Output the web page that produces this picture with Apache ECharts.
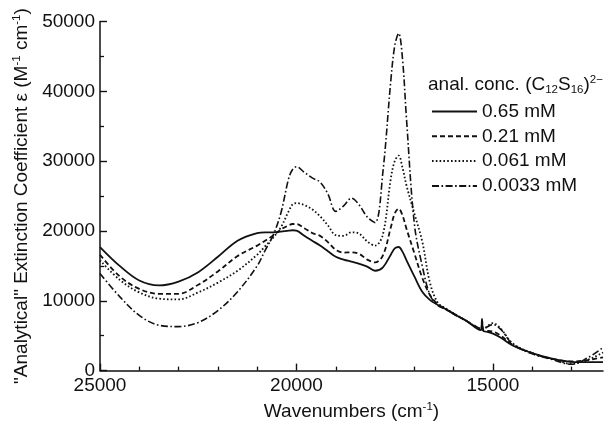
<!DOCTYPE html>
<html>
<head>
<meta charset="utf-8">
<script src="https://cdn.jsdelivr.net/npm/echarts@6/dist/echarts.min.js"></script>
<style>
html,body{margin:0;padding:0;background:#fff;}
#c{width:605px;height:426px;}
</style>
</head>
<body>
<div id="c"></div>
<script>
// wavenumbers (cm^-1)
const wavenumbers = [25000,24500,24000,23500,23000,22500,22000,21500,21000,20800,20600,20400,20200,20100,20000,19800,19600,19400,19200,19000,18800,18600,18400,18200,18000,17800,17600,17500,17400,17300,17200,17000,16800,16600,16400,16200,16000,15700,15400,15300,15280,15250,15200,15000,14800,14500,14000,13500,13000,12600,12200];
const seriesNames = ['0.65 mM','0.21 mM','0.061 mM','0.0033 mM'];
const conc065 = [17700,15000,12900,12200,12750,14100,16300,18600,19700,19800,19800,19900,20050,20100,20050,19300,18600,17900,17100,16300,15900,15600,15300,14900,14300,14800,16600,17500,17700,17000,15800,13500,11300,10100,9400,8800,8100,7200,6000,5800,7400,5700,5600,5300,4700,3600,2500,1700,1250,1200,1200];
const conc021 = [16600,13500,11700,11000,11000,12300,14200,16400,17900,18600,19300,20200,20800,21000,21000,20400,19700,19300,18400,17300,16900,16950,16700,15900,15500,16500,20500,22500,23200,22200,20300,16800,13300,10800,9500,8800,8100,7200,6100,5900,7200,5800,5700,5600,5000,3700,2500,1700,1300,1500,1900];
const conc0061 = [15800,13000,11200,10300,10200,11200,12600,14300,16600,17800,19000,20500,22800,23800,24000,23700,23100,22100,20800,19400,19300,19800,19600,18500,17900,19500,27500,30000,30800,29000,26500,22500,18500,12500,9700,8900,8200,7200,6200,6000,6100,6000,6100,6800,6000,3900,2500,1700,1000,1500,2600];
const conc00033 = [13900,10600,7900,6500,6300,6900,8600,11300,15000,17200,19300,22500,27500,28800,29200,28400,27600,27000,25300,22800,23600,24700,23700,22000,21200,28500,41500,46500,48300,44500,36000,21000,15000,10800,9300,8800,8200,7200,6200,6000,6100,6000,6100,6600,5900,3800,2400,1600,900,1800,3300];
const yTicks = [0,10000,20000,30000,40000,50000];
const xMajorTicks = [25000,20000,15000];
const xMinorTicks = [24000,23000,22000,21000,19000,18000,17000,16000,14000,13000];

const ink = '#111';
const font = 'Liberation Sans, Arial, sans-serif';
const fs = 19;
const dashes = ['solid',[5,3],[1.6,2.2],[7,2.5,1.6,2.5]];
const widths = [1.8,1.8,1.8,1.6];
const allData = [conc065,conc021,conc0061,conc00033];

const chart = echarts.init(document.getElementById('c'));
const sup = {fontSize:11.5, fontFamily:font, fontWeight:'normal', color:ink, verticalAlign:'top', lineHeight:22};
const sub = {fontSize:11.5, fontFamily:font, fontWeight:'normal', color:ink, verticalAlign:'bottom', lineHeight:22};
const base = {fontSize:fs, fontFamily:font, fontWeight:'normal', color:ink, lineHeight:22};
chart.setOption({
  animation:false,
  backgroundColor:'#fff',
  title:{
    text:'{a|anal. conc. (C}{s|12}{a|S}{s|16}{a|)}{p|2−}',
    left:428, top:74, padding:0,
    textStyle:{fontWeight:'normal', rich:{a:base, s:sub, p:sup}}
  },
  legend:{
    orient:'vertical', left:431, top:102, padding:0,
    itemWidth:45, itemHeight:19, itemGap:5.8,
    itemStyle:{opacity:0},
    textStyle:{fontSize:fs, fontFamily:font, color:ink},
    data:seriesNames
  },
  grid:{left:100, right:2, top:21.5, bottom:51},
  xAxis:[{
    type:'value', min:12200, max:25000, inverse:true,
    axisLine:{onZero:false, lineStyle:{color:ink, width:1.5}},
    axisTick:{inside:true, length:7, customValues:xMajorTicks, lineStyle:{color:ink, width:1.4}},
    axisLabel:{customValues:xMajorTicks, formatter:v=>String(v), fontSize:fs, fontFamily:font, color:ink, margin:6},
    splitLine:{show:false},
    name:'Wavenumbers (cm{p|-1})', nameLocation:'middle', nameGap:25,
    nameTextStyle:{fontSize:fs, fontFamily:font, color:ink, rich:{p:sup}}
  },{
    type:'value', min:12200, max:25000, inverse:true, position:'bottom', offset:0,
    axisLine:{show:false},
    axisTick:{show:true, inside:true, length:4, customValues:xMinorTicks, lineStyle:{color:ink, width:1.3}},
    axisLabel:{show:false}, splitLine:{show:false}
  }],
  yAxis:{
    type:'value', min:0, max:50000, interval:10000,
    axisLine:{show:true, lineStyle:{color:ink, width:1.5}},
    axisTick:{show:true, inside:true, length:7, lineStyle:{color:ink, width:1.4}},
    minorTick:{show:true, splitNumber:2, length:4, lineStyle:{color:ink, width:1.3}},
    axisLabel:{formatter:v=>String(v), fontSize:fs, fontFamily:font, color:ink, margin:5},
    splitLine:{show:false},
    name:'"Analytical" Extinction Coefficient ε (M{p|-1} cm{p|-1})', nameLocation:'middle', nameGap:66,
    nameTextStyle:{fontSize:fs, fontFamily:font, color:ink, rich:{p:sup}}
  },
  series: seriesNames.map((n,i)=>({
    name:n, type:'line', xAxisIndex:0, symbol:'none', smooth:0.35,
    data: wavenumbers.map((w,k)=>[w, allData[i][k]]),
    lineStyle:{color:ink, width:widths[i], type:dashes[i]},
    itemStyle:{color:ink}
  }))
});
</script>
</body>
</html>
